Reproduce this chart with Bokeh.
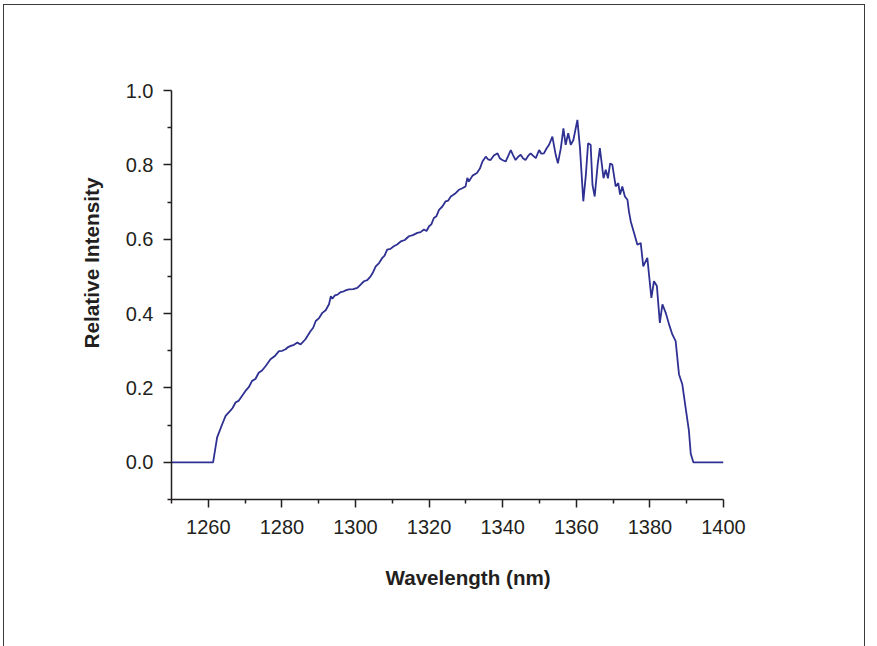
from bokeh.plotting import figure
from bokeh.models import FixedTicker, Title
from bokeh.embed import file_html
from bokeh.resources import INLINE

wavelength = [1250.0, 1261.3, 1262.4, 1263.8, 1264.7, 1266.0, 1266.6, 1267.4, 1268.3, 1269.2, 1270.1,
              1271.0, 1271.9, 1272.8, 1273.7, 1274.6, 1275.6, 1276.9, 1278.0, 1279.2, 1280.1,
              1281.0, 1281.7, 1282.4, 1283.3, 1284.2, 1285.1, 1286.4, 1287.8, 1288.5,
              1289.2, 1290.1, 1291.0, 1291.9, 1292.8, 1293.3, 1293.7, 1294.4, 1295.1, 1296.0,
              1296.8, 1297.5, 1298.2, 1299.4, 1300.5, 1301.4, 1302.3, 1303.2, 1304.1, 1304.8,
              1305.5, 1306.4, 1307.3, 1307.9, 1308.6, 1309.5, 1310.4, 1311.3, 1312.3, 1313.4,
              1314.5, 1315.6, 1316.8, 1317.7, 1318.6, 1319.3, 1320.0, 1320.6, 1321.3, 1322.0,
              1322.7, 1323.6, 1324.5, 1325.2, 1325.9, 1327.0, 1328.1, 1329.0, 1329.9, 1330.4,
              1330.8, 1331.8, 1333.0, 1333.8, 1334.5, 1335.4, 1336.0, 1336.7, 1337.6,
              1338.6, 1339.2, 1339.9, 1340.8, 1341.5, 1342.2, 1342.8, 1343.5, 1344.2, 1344.9,
              1345.5, 1346.2, 1346.9, 1347.6, 1348.3, 1349.0, 1349.9,
              1350.5, 1351.2, 1351.9, 1352.6, 1353.5, 1354.4, 1355.0, 1355.8, 1356.5, 1357.1, 1357.8, 1358.5,
              1359.2, 1360.3, 1361.0, 1361.9, 1362.6, 1363.2, 1363.9, 1364.4, 1365.0, 1365.8,
              1366.4, 1366.8, 1367.4, 1368.0, 1368.6, 1369.2, 1369.8, 1370.7, 1371.4, 1371.9,
              1372.5, 1373.2, 1373.9, 1374.3, 1374.8, 1375.7, 1376.6, 1377.5, 1378.2, 1379.3,
              1380.4, 1381.1, 1381.9, 1382.7, 1383.4, 1384.3, 1385.2, 1386.1, 1387.0, 1387.9,
              1388.8, 1389.7, 1390.6, 1391.1, 1391.8, 1400.0]
intensity = [0.0, 0.0, 0.067, 0.103, 0.125, 0.139, 0.146, 0.161, 0.166, 0.179, 0.192,
             0.202, 0.219, 0.224, 0.241, 0.247, 0.259, 0.277, 0.285, 0.299, 0.300,
             0.304, 0.310, 0.313, 0.316, 0.322, 0.317, 0.331, 0.353, 0.362,
             0.380, 0.388, 0.402, 0.409, 0.425, 0.447, 0.440, 0.449, 0.451, 0.458,
             0.460, 0.463, 0.465, 0.466, 0.469, 0.478, 0.487, 0.490, 0.500, 0.512,
             0.527, 0.536, 0.550, 0.556, 0.572, 0.574, 0.581, 0.586, 0.594, 0.598,
             0.608, 0.611, 0.617, 0.619, 0.626, 0.622, 0.635, 0.640, 0.657, 0.662,
             0.679, 0.688, 0.702, 0.704, 0.715, 0.722, 0.733, 0.737, 0.742, 0.765,
             0.755, 0.771, 0.778, 0.790, 0.809, 0.822, 0.815, 0.813, 0.825,
             0.831, 0.818, 0.813, 0.809, 0.824, 0.840, 0.826, 0.813, 0.822, 0.827,
             0.818, 0.813, 0.824, 0.831, 0.824, 0.818, 0.840,
             0.830, 0.831, 0.844, 0.854, 0.876, 0.827, 0.804, 0.845, 0.898, 0.854, 0.885, 0.854,
             0.867, 0.921, 0.845, 0.702, 0.773, 0.858, 0.854, 0.746, 0.715, 0.800,
             0.845, 0.813, 0.764, 0.787, 0.764, 0.804, 0.800, 0.742, 0.751, 0.720,
             0.742, 0.715, 0.706, 0.675, 0.648, 0.617, 0.585, 0.590, 0.527, 0.550,
             0.442, 0.487, 0.474, 0.375, 0.425, 0.402, 0.371, 0.344, 0.326, 0.237,
             0.210, 0.147, 0.085, 0.023, 0.0, 0.0]

x_major = [1260, 1280, 1300, 1320, 1340, 1360, 1380, 1400]
x_minor = [1250, 1270, 1290, 1310, 1330, 1350, 1370, 1390]
y_major = [0.0, 0.2, 0.4, 0.6, 0.8, 1.0]
y_minor = [-0.1, 0.1, 0.3, 0.5, 0.7, 0.9]

TEXT = "#231f20"
FONT = "Liberation Sans"

p = figure(width=862, height=660, output_backend="svg", toolbar_location=None,
           x_range=(1250, 1400), y_range=(-0.1, 1.0),
           min_border_left=167, min_border_right=143, min_border_top=85, min_border_bottom=166)
p.margin = (4, 0, 0, 3)
p.styles = {"border-left": "1px solid #3a3a3a", "border-top": "1px solid #3a3a3a",
            "border-right": "1px solid #3a3a3a"}
p.outline_line_color = None
p.grid.visible = False
p.background_fill_color = "white"
p.border_fill_color = "white"

p.line(wavelength, intensity, line_color="#2e3192", line_width=1.8)

p.xaxis.ticker = FixedTicker(ticks=x_major, minor_ticks=x_minor)
p.yaxis.ticker = FixedTicker(ticks=y_major, minor_ticks=y_minor)
p.yaxis.major_label_overrides = {0.0: "0.0", 0.2: "0.2", 0.4: "0.4", 0.6: "0.6", 0.8: "0.8", 1.0: "1.0"}

for ax in (p.xaxis, p.yaxis):
    ax.axis_line_color = TEXT
    ax.axis_line_width = 1.5
    ax.major_tick_line_color = TEXT
    ax.major_tick_line_width = 1.5
    ax.minor_tick_line_color = TEXT
    ax.minor_tick_line_width = 1.5
    ax.major_tick_in = 0
    ax.major_tick_out = 8
    ax.minor_tick_in = 0
    ax.minor_tick_out = 4
    ax.major_label_text_font = FONT
    ax.major_label_text_font_size = "20px"
    ax.major_label_text_color = TEXT

p.xaxis.major_label_standoff = 12
p.yaxis.major_label_standoff = 10

xt = Title(text="Wavelength (nm)", align="left", offset=214, text_font=FONT,
           text_font_size="20.6px", text_font_style="bold", text_color=TEXT, standoff=54)
yt = Title(text="Relative Intensity", align="right", offset=87, text_font=FONT,
           text_font_size="20.8px", text_font_style="bold", text_color=TEXT, standoff=40)
p.add_layout(xt, "below")
p.add_layout(yt, "left")

open("out.html", "w").write(file_html(p, INLINE))
